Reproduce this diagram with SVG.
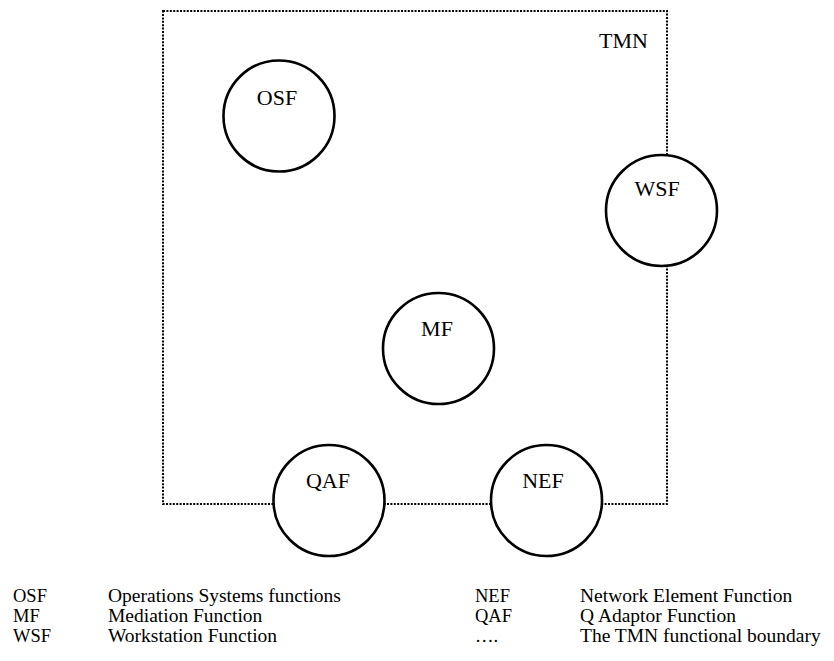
<svg xmlns="http://www.w3.org/2000/svg" width="834" height="661" viewBox="0 0 834 661">
  <style>
    .boundary { fill: none; stroke: #000; stroke-width: 2; stroke-dasharray: 2 1.4; }
    .fn circle { fill: #fff; stroke: #000; stroke-width: 2.6; }
    .fn text { font-family: "Liberation Serif", "Times New Roman", serif; font-size: 22px; text-anchor: middle; fill: #000; }
    .tmn { font-family: "Liberation Serif", "Times New Roman", serif; font-size: 22px; fill: #000; }
    .legend text { font-family: "Liberation Serif", "Times New Roman", serif; fill: #000; }
    .legend .abbr { font-size: 18.5px; }
    .legend .desc { font-size: 19.5px; }
  </style>
  <rect width="834" height="661" fill="#fff"/>

  <!-- TMN functional boundary (dotted) -->
  <g id="connectors">
    <rect class="boundary" x="163" y="11" width="504" height="493"/>
  </g>
  <text class="tmn" x="599" y="48">TMN</text>

  <!-- function blocks -->
  <g id="osf" class="fn">
    <circle cx="279" cy="116" r="55.5"/>
    <text x="277" y="105">OSF</text>
  </g>
  <g id="wsf" class="fn">
    <circle cx="661.5" cy="210.5" r="55.5"/>
    <text x="657" y="196">WSF</text>
  </g>
  <g id="mf" class="fn">
    <circle cx="438.5" cy="348.5" r="55.5"/>
    <text x="437" y="336">MF</text>
  </g>
  <g id="qaf" class="fn">
    <circle cx="329" cy="500.5" r="55.5"/>
    <text x="328" y="488">QAF</text>
  </g>
  <g id="nef" class="fn">
    <circle cx="546.5" cy="500.5" r="55.5"/>
    <text x="543" y="488">NEF</text>
  </g>

  <!-- key -->
  <g id="legend" class="legend">
    <text class="abbr" x="13" y="602">OSF</text>
    <text class="desc" x="108" y="602">Operations Systems functions</text>
    <text class="abbr" x="13" y="622">MF</text>
    <text class="desc" x="108" y="622">Mediation Function</text>
    <text class="abbr" x="13" y="642">WSF</text>
    <text class="desc" x="108" y="642">Workstation Function</text>
    <text class="abbr" x="475" y="602">NEF</text>
    <text class="desc" x="580" y="602">Network Element Function</text>
    <text class="abbr" x="475" y="622">QAF</text>
    <text class="desc" x="580" y="622">Q Adaptor Function</text>
    <text class="abbr" x="475" y="642">….</text>
    <text class="desc" x="580" y="642">The TMN functional boundary</text>
  </g>
</svg>
